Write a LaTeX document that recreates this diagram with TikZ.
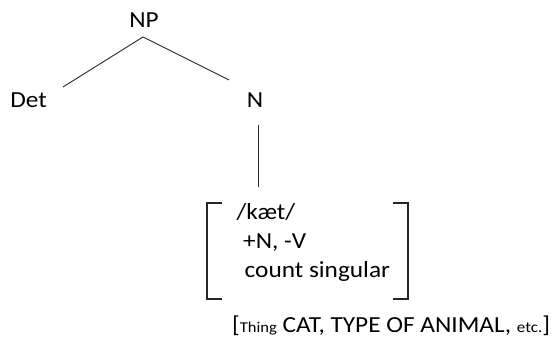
\documentclass[tikz,border=0pt]{standalone}
\usepackage{fontspec}
\setmainfont{Carlito}[FakeStretch=1.1]
\usetikzlibrary{calc}

\begin{document}
\begin{tikzpicture}[x=1pt,y=-1pt,
  word/.style={inner sep=0pt,anchor=base,font=\fontsize{23}{27}\selectfont},
  entry/.style={word,anchor=base west},
  branch/.style={draw=black!85,line width=0.9pt},
  brack/.style={draw=black!85,line width=1.3pt}]

  \useasboundingbox (0,0) rectangle (560,347);

  % the tree
  \node[word] (np)  at (144,28)  {NP};
  \node[word] (det) at (28.5,108) {Det};
  \node[word] (n)   at (255,108)  {N};

  \coordinate (npfoot) at (143,37);
  \coordinate (detend) at (63,87);
  \coordinate (nend)   at (229,80);
  \coordinate (nfoot)  at (258,125);
  \coordinate (lextop) at (258,187);

  \draw[branch] (npfoot) -- (detend);
  \draw[branch] (npfoot) -- (nend);
  \draw[branch] (nfoot) -- (lextop);

  % lexical entry
  \node[entry] (phon) at (236.5,220) {/kæt/};
  \node[entry] (feat) at (243,249)   {+N, -V};
  \node[entry] (num)  at (244.5,278) {count singular};

  \coordinate (lb1) at (222,203);
  \coordinate (lb2) at (207,299);
  \coordinate (rb1) at (393,203);
  \coordinate (rb2) at (408,299);
  \draw[brack] (lb1) -| (lb2) -- (lb2 -| lb1);
  \draw[brack] (rb1) -| (rb2) -- (rb2 -| rb1);

  % conceptual structure
  \node[entry] (sem) at (232,333)
    {[{\fontsize{15}{17}\selectfont Thing} CAT, TYPE OF ANIMAL, {\fontsize{15.5}{17}\selectfont etc.}]};
\end{tikzpicture}
\end{document}
